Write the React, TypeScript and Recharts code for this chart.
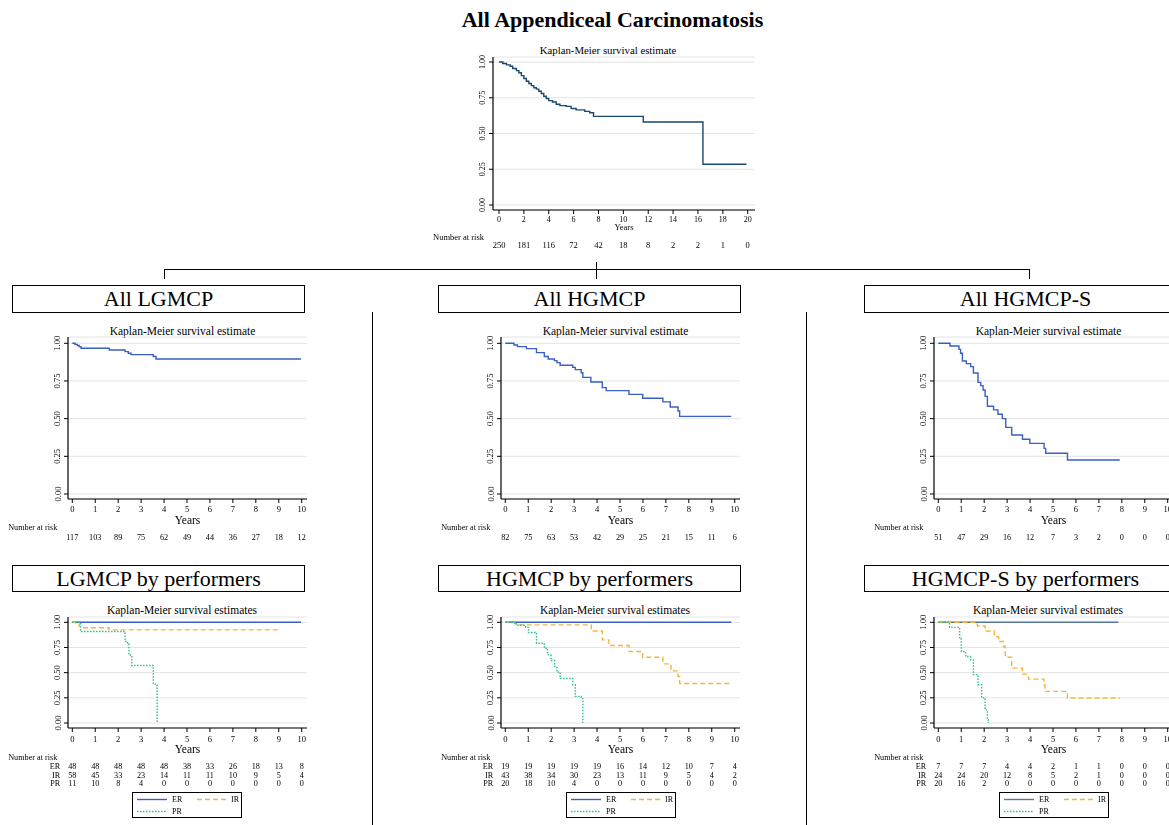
import { CartesianGrid, Line, LineChart, XAxis, YAxis } from 'recharts';

const FONT = '"Liberation Serif", "Times New Roman", serif';

const NAVY = '#1a476f';
const BLUE = '#3b5fc2';
const SLATE = '#55779a';
const ORANGE = '#f3b53f';
const GREEN = '#2cbf92';

// Kaplan-Meier steps: years / survival
const allYears = [0, 0.3, 0.6, 0.9, 1.1, 1.4, 1.6, 1.8, 2.0, 2.2, 2.4, 2.6, 2.8, 3.0, 3.2, 3.4, 3.6, 3.8, 4.0, 4.3, 4.6, 4.9, 5.4, 5.8, 6.2, 6.9, 7.3, 7.6, 11.6, 16.4, 19.9];
const allSurv = [1.0, 0.99, 0.98, 0.97, 0.955, 0.94, 0.925, 0.905, 0.885, 0.865, 0.85, 0.835, 0.82, 0.81, 0.795, 0.78, 0.76, 0.745, 0.73, 0.72, 0.705, 0.695, 0.69, 0.675, 0.665, 0.655, 0.645, 0.62, 0.58, 0.285, 0.285];

const lgYears = [0, 0.12, 0.22, 0.3, 0.38, 1.61, 2.3, 2.44, 2.56, 3.53, 3.65, 9.97];
const lgSurv = [1.0, 0.993, 0.985, 0.978, 0.967, 0.956, 0.945, 0.934, 0.925, 0.912, 0.896, 0.896];

const hgYears = [0, 0.38, 0.53, 0.92, 1.36, 1.7, 1.87, 2.14, 2.25, 2.39, 2.94, 3.05, 3.31, 3.38, 3.73, 4.23, 4.4, 5.39, 5.99, 6.87, 7.19, 7.53, 7.6, 9.85];
const hgSurv = [1.0, 0.989, 0.978, 0.965, 0.938, 0.912, 0.896, 0.885, 0.872, 0.854, 0.84, 0.825, 0.805, 0.774, 0.743, 0.706, 0.686, 0.661, 0.635, 0.611, 0.577, 0.551, 0.515, 0.515];

const hsYears = [0, 0.51, 0.9, 0.97, 1.05, 1.22, 1.41, 1.53, 1.73, 1.85, 1.95, 2.04, 2.14, 2.41, 2.6, 2.79, 2.94, 3.2, 3.67, 3.99, 4.61, 4.68, 5.63, 7.91];
const hsSurv = [1.0, 0.982, 0.96, 0.934, 0.883, 0.865, 0.845, 0.803, 0.741, 0.719, 0.69, 0.648, 0.582, 0.558, 0.529, 0.5, 0.442, 0.392, 0.363, 0.336, 0.303, 0.27, 0.226, 0.226];

// by performers
const lgErYears = [0, 9.97];
const lgErSurv = [1, 1];
const lgIrYears = [0, 0.15, 0.3, 0.4, 1.6, 9.05];
const lgIrSurv = [1, 0.98, 0.96, 0.946, 0.925, 0.925];
const lgPrYears = [0, 0.36, 2.3, 2.41, 2.47, 2.59, 3.53, 3.62, 3.7];
const lgPrSurv = [1, 0.908, 0.81, 0.785, 0.676, 0.571, 0.386, 0.373, 0];

const hgErYears = [0, 9.85];
const hgErSurv = [1, 1];
const hgIrYears = [0, 0.38, 0.57, 3.75, 4.23, 4.51, 5.39, 5.99, 6.87, 7.22, 7.53, 7.6, 9.85];
const hgIrSurv = [1, 0.987, 0.974, 0.914, 0.825, 0.769, 0.71, 0.653, 0.587, 0.518, 0.462, 0.393, 0.393];
const hgPrYears = [0, 0.48, 0.89, 1.01, 1.36, 1.7, 1.84, 1.99, 2.15, 2.25, 2.39, 2.94, 3.05, 3.31, 3.38];
const hgPrSurv = [1, 0.97, 0.95, 0.898, 0.792, 0.743, 0.677, 0.62, 0.561, 0.505, 0.442, 0.38, 0.264, 0.24, 0];

const hsErYears = [0, 7.85];
const hsErSurv = [1, 1];
const hsIrYears = [0, 1.7, 2.04, 2.44, 2.63, 2.84, 2.92, 3.2, 3.67, 3.93, 4.61, 4.65, 5.63, 7.91];
const hsIrSurv = [1, 0.964, 0.914, 0.858, 0.809, 0.76, 0.653, 0.545, 0.485, 0.436, 0.38, 0.314, 0.248, 0.248];
const hsPrYears = [0, 0.49, 0.93, 1.0, 1.19, 1.41, 1.53, 1.73, 1.89, 2.04, 2.14, 2.18];
const hsPrSurv = [1, 0.95, 0.848, 0.71, 0.66, 0.627, 0.48, 0.38, 0.25, 0.13, 0.03, 0];

const survTicks = [0, 0.25, 0.5, 0.75, 1];
const yearTicks10 = [0, 1, 2, 3, 4, 5, 6, 7, 8, 9, 10];
const yearTicks20 = [0, 2, 4, 6, 8, 10, 12, 14, 16, 18, 20];

// number at risk
const riskAll = [250, 181, 116, 72, 42, 18, 8, 2, 2, 1, 0];
const riskLg = [117, 103, 89, 75, 62, 49, 44, 36, 27, 18, 12];
const riskHg = [82, 75, 63, 53, 42, 29, 25, 21, 15, 11, 6];
const riskHs = [51, 47, 29, 16, 12, 7, 3, 2, 0, 0, 0];
const riskLgEr = [48, 48, 48, 48, 48, 38, 33, 26, 18, 13, 8];
const riskLgIr = [58, 45, 33, 23, 14, 11, 11, 10, 9, 5, 4];
const riskLgPr = [11, 10, 8, 4, 0, 0, 0, 0, 0, 0, 0];
const riskHgEr = [19, 19, 19, 19, 19, 16, 14, 12, 10, 7, 4];
const riskHgIr = [43, 38, 34, 30, 23, 13, 11, 9, 5, 4, 2];
const riskHgPr = [20, 18, 10, 4, 0, 0, 0, 0, 0, 0, 0];
const riskHsEr = [7, 7, 7, 4, 4, 2, 1, 1, 0, 0, 0];
const riskHsIr = [24, 24, 20, 12, 8, 5, 2, 1, 0, 0, 0];
const riskHsPr = [20, 16, 2, 0, 0, 0, 0, 0, 0, 0, 0];

const groups = ['ER', 'IR', 'PR'];

const toPts = (t: number[], s: number[]) => t.map((v, i) => ({ t: v, s: s[i] }));

interface Curve {
  key: string;
  color: string;
  dash?: string;
  pts: { t: number; s: number }[];
}
interface RiskRow {
  label?: string;
  values: number[];
}
interface KMProps {
  left: number;
  top: number;
  width: number;
  height: number;
  yAxisWidth: number;
  marginTop: number;
  marginRight: number;
  xAxisHeight: number;
  padX: { left: number; right: number };
  padY: { top: number; bottom: number };
  xMax: number;
  xTicks: number[];
  curves: Curve[];
  risk: RiskRow[];
  dy: { tick: number; years: number; head: number; rows: number[] };
  font: { tick: number; years: number; risk: number };
}

const TICK = 4;

function KMChart(p: KMProps) {
  const xTick = (props: any) => {
    const { x, y, payload } = props;
    const i = p.xTicks.indexOf(payload.value);
    const axisY = y - TICK;
    return (
      <g fontFamily={FONT} fill="#000" stroke="none">
        <text x={x} y={axisY + p.dy.tick} textAnchor="middle" dominantBaseline="central" fontSize={p.font.tick} fill="#000">
          {payload.value}
        </text>
        {i === 0 && (
          <text x={x - 15} y={axisY + p.dy.head} textAnchor="end" dominantBaseline="central" fontSize={p.font.risk} fill="#000">
            Number at risk
          </text>
        )}
        {p.risk.map((row, r) => (
          <g key={r} fontSize={p.font.risk} fill="#000">
            {i === 0 && row.label && (
              <text x={x - 12} y={axisY + p.dy.rows[r]} textAnchor="end" dominantBaseline="central">
                {row.label}
              </text>
            )}
            <text x={x} y={axisY + p.dy.rows[r]} textAnchor="middle" dominantBaseline="central">
              {row.values[i]}
            </text>
          </g>
        ))}
      </g>
    );
  };

  const yTick = (props: any) => {
    const { x, y, payload } = props;
    const cx = x - 6.5;
    return (
      <text
        x={cx}
        y={y}
        transform={`rotate(-90 ${cx} ${y})`}
        textAnchor="middle"
        dominantBaseline="central"
        fontSize={p.font.tick}
        fontFamily={FONT}
        fill="#000"
        stroke="none"
      >
        {payload.value.toFixed(2)}
      </text>
    );
  };

  const yearsLabel = (props: any) => {
    const vb = props.viewBox;
    return (
      <text
        x={vb.x + vb.width / 2}
        y={vb.y + p.dy.years}
        textAnchor="middle"
        dominantBaseline="central"
        fontSize={p.font.years}
        fontFamily={FONT}
        fill="#000"
      >
        Years
      </text>
    );
  };

  return (
    <div style={{ position: 'absolute', left: p.left, top: p.top, willChange: 'transform' }}>
      <LineChart
        width={p.width}
        height={p.height}
        margin={{ top: p.marginTop, right: p.marginRight, bottom: 0, left: 0 }}
      >
        <CartesianGrid vertical={false} stroke="#e4e4e4" strokeWidth={1} />
        <XAxis
          dataKey="t"
          type="number"
          domain={[0, p.xMax]}
          ticks={p.xTicks}
          interval={0}
          padding={p.padX}
          height={p.xAxisHeight}
          tickSize={TICK}
          tickMargin={0}
          tick={xTick}
          axisLine={{ stroke: '#000', strokeWidth: 1.2 }}
          tickLine={{ stroke: '#000' }}
          label={{ content: yearsLabel }}
        />
        <YAxis
          type="number"
          domain={[0, 1]}
          ticks={survTicks}
          interval={0}
          padding={p.padY}
          width={p.yAxisWidth}
          tickSize={TICK}
          tickMargin={0}
          tick={yTick}
          axisLine={{ stroke: '#000', strokeWidth: 1.2 }}
          tickLine={{ stroke: '#000' }}
        />
        {p.curves.map((c) => (
          <Line
            key={c.key}
            data={c.pts}
            dataKey="s"
            type="stepAfter"
            stroke={c.color}
            strokeWidth={1.4}
            strokeDasharray={c.dash}
            dot={false}
            activeDot={false}
            isAnimationActive={false}
          />
        ))}
      </LineChart>
    </div>
  );
}

function CenterText(props: { x: number; y: number; size: number; bold?: boolean; children: string }) {
  const lh = Math.round(props.size * 1.2);
  return (
    <div
      style={{
        position: 'absolute',
        left: props.x - 300,
        width: 600,
        top: props.y - lh / 2,
        height: lh,
        lineHeight: `${lh}px`,
        textAlign: 'center',
        fontSize: props.size,
        fontWeight: props.bold ? 'bold' : 'normal',
        whiteSpace: 'nowrap',
      }}
    >
      {props.children}
    </div>
  );
}

function Box(props: { left: number; top: number; width: number; height: number; children: string }) {
  return (
    <div
      style={{
        position: 'absolute',
        left: props.left,
        top: props.top,
        width: props.width,
        height: props.height,
        border: '1px solid #000',
        boxSizing: 'border-box',
        textAlign: 'center',
        lineHeight: `${props.height - 2}px`,
        fontSize: 22,
        whiteSpace: 'nowrap',
        background: '#fff',
      }}
    >
      {props.children}
    </div>
  );
}

function Rule(props: { left: number; top: number; width: number; height: number }) {
  return <div style={{ position: 'absolute', ...props, background: '#000' }} />;
}

function PerfLegend(props: { left: number; top: number; colors: string[] }) {
  const dashes = [undefined, '5 3', '1.5 1.5'];
  const spots = [
    { x: 4, y: 6.5 },
    { x: 64, y: 6.5 },
    { x: 4, y: 18.5 },
  ];
  return (
    <div
      style={{
        position: 'absolute',
        left: props.left,
        top: props.top,
        width: 110,
        height: 26,
        border: '1.5px solid #000',
        boxSizing: 'border-box',
        willChange: 'transform',
      }}
    >
      <svg width={107} height={23} style={{ display: 'block' }}>
        {groups.map((g, i) => (
          <g key={g}>
            <line
              x1={spots[i].x}
              x2={spots[i].x + 30}
              y1={spots[i].y}
              y2={spots[i].y}
              stroke={props.colors[i]}
              strokeWidth={1.4}
              strokeDasharray={dashes[i]}
            />
            <text
              x={i === 1 ? spots[i].x + 34 : spots[i].x + 35}
              y={spots[i].y}
              dominantBaseline="central"
              fontSize={8}
              fontFamily={FONT}
              fill="#000"
            >
              {g}
            </text>
          </g>
        ))}
      </svg>
    </div>
  );
}

const midBase = {
  top: 320,
  width: 330,
  height: 225,
  yAxisWidth: 68,
  marginTop: 17,
  marginRight: 23,
  xAxisHeight: 46,
  padX: { left: 4.3, right: 5.3 },
  padY: { top: 6.3, bottom: 5 },
  xMax: 10,
  xTicks: yearTicks10,
  dy: { tick: 9.5, years: 21, head: 28, rows: [38] },
  font: { tick: 8.5, years: 11.5, risk: 8.2 },
};

const lowBase = {
  top: 598,
  width: 330,
  height: 192,
  yAxisWidth: 68,
  marginTop: 19,
  marginRight: 23,
  xAxisHeight: 62,
  padX: { left: 4.3, right: 5.3 },
  padY: { top: 5.3, bottom: 5 },
  xMax: 10,
  xTicks: yearTicks10,
  dy: { tick: 10.5, years: 21, head: 29.5, rows: [38.5, 47, 55.7] },
  font: { tick: 8.5, years: 11.5, risk: 8.2 },
};

const perfCurves = (er: Curve['pts'], ir: Curve['pts'], pr: Curve['pts'], erColor: string): Curve[] => [
  { key: 'ER', color: erColor, pts: er },
  { key: 'IR', color: ORANGE, dash: '5 3', pts: ir },
  { key: 'PR', color: GREEN, dash: '1.5 1.5', pts: pr },
];

export default function App() {
  return (
    <div
      style={{
        position: 'absolute',
        left: 0,
        top: 0,
        width: 1169,
        height: 825,
        overflow: 'hidden',
        background: '#fff',
        fontFamily: FONT,
        color: '#000',
      }}
    >
      <CenterText x={612.5} y={20} size={22} bold>
        All Appendiceal Carcinomatosis
      </CenterText>

      <CenterText x={608} y={50} size={10.8}>
        Kaplan-Meier survival estimate
      </CenterText>
      <KMChart
        left={400}
        top={40}
        width={370}
        height={215}
        yAxisWidth={93}
        marginTop={17}
        marginRight={15}
        xAxisHeight={45}
        padX={{ left: 6, right: 7.3 }}
        padY={{ top: 5, bottom: 5 }}
        xMax={20}
        xTicks={yearTicks20}
        curves={[{ key: 'all', color: NAVY, pts: toPts(allYears, allSurv) }]}
        risk={[{ values: riskAll }]}
        dy={{ tick: 9, years: 17, head: 27, rows: [35] }}
        font={{ tick: 8, years: 8.5, risk: 8.5 }}
      />

      {/* tree connector */}
      <Rule left={164} top={269} width={866} height={1} />
      <Rule left={164} top={269} width={1} height={10} />
      <Rule left={596} top={262} width={1} height={17} />
      <Rule left={1029} top={269} width={1} height={10} />

      <Rule left={372} top={312} width={1} height={513} />
      <Rule left={806} top={312} width={1} height={513} />

      <Box left={12} top={285} width={293} height={28}>All LGMCP</Box>
      <Box left={438} top={285} width={303} height={28}>All HGMCP</Box>
      <Box left={864} top={285} width={323} height={28}>All HGMCP-S</Box>

      <CenterText x={182.5} y={331} size={11.5}>Kaplan-Meier survival estimate</CenterText>
      <CenterText x={615.5} y={331} size={11.5}>Kaplan-Meier survival estimate</CenterText>
      <CenterText x={1048.5} y={331} size={11.5}>Kaplan-Meier survival estimate</CenterText>

      <KMChart {...midBase} left={0} curves={[{ key: 'lg', color: BLUE, pts: toPts(lgYears, lgSurv) }]} risk={[{ values: riskLg }]} />
      <KMChart {...midBase} left={433} curves={[{ key: 'hg', color: BLUE, pts: toPts(hgYears, hgSurv) }]} risk={[{ values: riskHg }]} />
      <KMChart {...midBase} left={866} curves={[{ key: 'hs', color: BLUE, pts: toPts(hsYears, hsSurv) }]} risk={[{ values: riskHs }]} />

      <Box left={12} top={565} width={293} height={27}>LGMCP by performers</Box>
      <Box left={438} top={565} width={303} height={27}>HGMCP by performers</Box>
      <Box left={864} top={565} width={323} height={27}>HGMCP-S by performers</Box>

      <CenterText x={182} y={610} size={11.5}>Kaplan-Meier survival estimates</CenterText>
      <CenterText x={615} y={610} size={11.5}>Kaplan-Meier survival estimates</CenterText>
      <CenterText x={1048} y={610} size={11.5}>Kaplan-Meier survival estimates</CenterText>

      <KMChart
        {...lowBase}
        left={0}
        curves={perfCurves(toPts(lgErYears, lgErSurv), toPts(lgIrYears, lgIrSurv), toPts(lgPrYears, lgPrSurv), BLUE)}
        risk={[
          { label: groups[0], values: riskLgEr },
          { label: groups[1], values: riskLgIr },
          { label: groups[2], values: riskLgPr },
        ]}
      />
      <KMChart
        {...lowBase}
        left={433}
        curves={perfCurves(toPts(hgErYears, hgErSurv), toPts(hgIrYears, hgIrSurv), toPts(hgPrYears, hgPrSurv), BLUE)}
        risk={[
          { label: groups[0], values: riskHgEr },
          { label: groups[1], values: riskHgIr },
          { label: groups[2], values: riskHgPr },
        ]}
      />
      <KMChart
        {...lowBase}
        left={866}
        curves={perfCurves(toPts(hsErYears, hsErSurv), toPts(hsIrYears, hsIrSurv), toPts(hsPrYears, hsPrSurv), SLATE)}
        risk={[
          { label: groups[0], values: riskHsEr },
          { label: groups[1], values: riskHsIr },
          { label: groups[2], values: riskHsPr },
        ]}
      />

      <PerfLegend left={132} top={792} colors={[BLUE, ORANGE, GREEN]} />
      <PerfLegend left={566} top={792} colors={[BLUE, ORANGE, GREEN]} />
      <PerfLegend left={999} top={792} colors={[SLATE, ORANGE, GREEN]} />
    </div>
  );
}
